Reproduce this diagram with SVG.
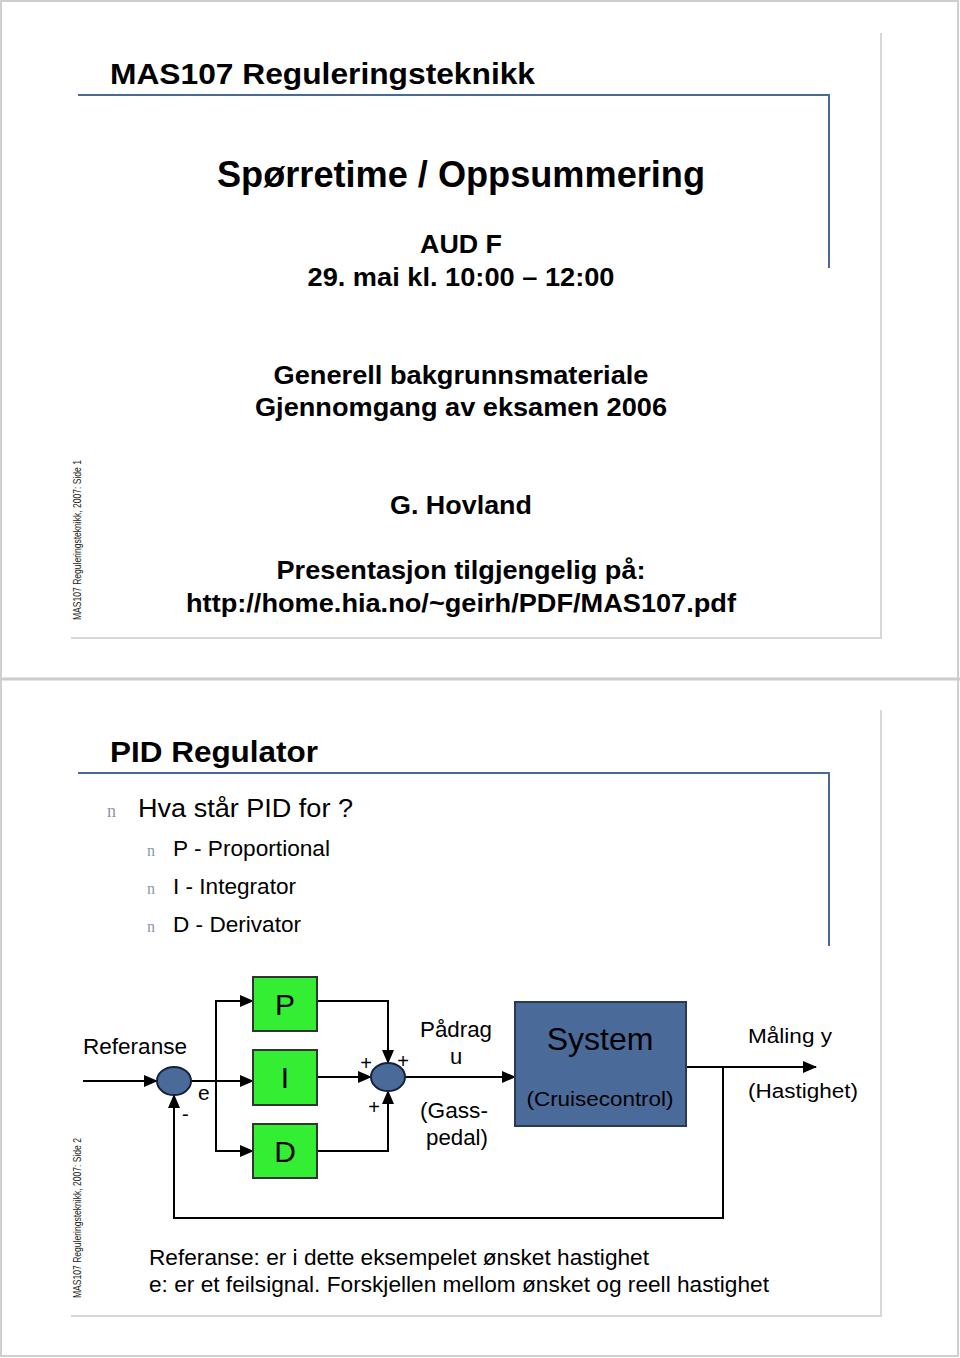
<svg xmlns="http://www.w3.org/2000/svg" width="960" height="1358" viewBox="0 0 960 1358">
<defs>
<style>
text{font-family:"Liberation Sans",Arial,sans-serif;fill:#000}
.b{font-weight:bold}
.frame{fill:none;stroke:#cfcfcf;stroke-width:2}
.shadow{fill:none;stroke:#d8d8d8;stroke-width:2}
.hdr{fill:none;stroke:#4a6a94;stroke-width:2}
.side{font-size:10px;fill:#222}
.bul{font-family:"Liberation Serif",serif;fill:#8a98a8}
.w{fill:none;stroke:#000;stroke-width:2}
.arr{fill:none;stroke:#000;stroke-width:2;marker-end:url(#ah)}
.blk{fill:#33ee33;stroke:#333;stroke-width:2}
.sum{fill:#4a6a9a;stroke:#15233a;stroke-width:2}
.sys{fill:#4a6a9a;stroke:#2a3a55;stroke-width:2}
.c{text-anchor:middle}
</style>
<marker id="ah" markerWidth="14" markerHeight="12" refX="13" refY="6" orient="auto" markerUnits="userSpaceOnUse">
<path d="M0,0 L14,6 L0,12 Z" fill="#000"/>
</marker>
</defs>
<rect width="960" height="1358" fill="#fff"/>
<g id="frame">
<rect class="frame" x="1" y="1" width="957" height="1355"/>
<line x1="0" y1="679" x2="960" y2="679" stroke="#cccccc" stroke-width="3"/>
<polyline class="shadow" points="71,638 881,638 881,33"/>
<polyline class="shadow" points="71,1316 881,1316 881,710"/>
</g>
<g id="slide1">
<text class="b" x="110" y="84" font-size="30" textLength="425" lengthAdjust="spacingAndGlyphs">MAS107 Reguleringsteknikk</text>
<polyline class="hdr" points="78,95 829,95 829,268"/>
<text class="b c" x="461" y="187" font-size="36" textLength="488" lengthAdjust="spacingAndGlyphs">Spørretime / Oppsummering</text>
<text class="b c" x="461" y="253" font-size="26" textLength="82" lengthAdjust="spacingAndGlyphs">AUD F</text>
<text class="b c" x="461" y="286" font-size="26" textLength="307" lengthAdjust="spacingAndGlyphs">29. mai kl. 10:00 – 12:00</text>
<text class="b c" x="461" y="384" font-size="26" textLength="375" lengthAdjust="spacingAndGlyphs">Generell bakgrunnsmateriale</text>
<text class="b c" x="461" y="416" font-size="26" textLength="412" lengthAdjust="spacingAndGlyphs">Gjennomgang av eksamen 2006</text>
<text class="b c" x="461" y="514" font-size="26" textLength="142" lengthAdjust="spacingAndGlyphs">G. Hovland</text>
<text class="b c" x="461" y="579" font-size="26" textLength="369" lengthAdjust="spacingAndGlyphs">Presentasjon tilgjengelig på:</text>
<text class="b c" x="461" y="612" font-size="26" textLength="550" lengthAdjust="spacingAndGlyphs">http://home.hia.no/~geirh/PDF/MAS107.pdf</text>
<text class="side" transform="translate(81,620) rotate(-90)" textLength="160" lengthAdjust="spacingAndGlyphs">MAS107 Reguleringsteknikk,  2007: Side 1</text>
</g>
<g id="slide2">
<text class="b" x="110" y="762" font-size="30" textLength="208" lengthAdjust="spacingAndGlyphs">PID Regulator</text>
<polyline class="hdr" points="78,773 829,773 829,946"/>
<text class="bul" x="107" y="817" font-size="18">n</text>
<text x="138" y="817" font-size="26" textLength="215" lengthAdjust="spacingAndGlyphs">Hva står PID for ?</text>
<text class="bul" x="147" y="856" font-size="16">n</text>
<text x="173" y="856" font-size="22" textLength="157" lengthAdjust="spacingAndGlyphs">P - Proportional</text>
<text class="bul" x="147" y="894" font-size="16">n</text>
<text x="173" y="894" font-size="22" textLength="123" lengthAdjust="spacingAndGlyphs">I - Integrator</text>
<text class="bul" x="147" y="932" font-size="16">n</text>
<text x="173" y="932" font-size="22" textLength="128" lengthAdjust="spacingAndGlyphs">D - Derivator</text>
<text class="side" transform="translate(81,1298) rotate(-90)" textLength="160" lengthAdjust="spacingAndGlyphs">MAS107 Reguleringsteknikk,  2007: Side 2</text>
<text x="149" y="1265" font-size="22" textLength="500" lengthAdjust="spacingAndGlyphs">Referanse: er i dette eksempelet ønsket hastighet</text>
<text x="149" y="1292" font-size="22" textLength="620" lengthAdjust="spacingAndGlyphs">e: er et feilsignal. Forskjellen mellom ønsket og reell hastighet</text>
</g>
<g id="connectors">
<line class="arr" x1="83" y1="1081" x2="157" y2="1081"/>
<line class="arr" x1="191" y1="1081" x2="253" y2="1081"/>
<polyline class="arr" points="216,1081 216,1001 253,1001"/>
<polyline class="arr" points="216,1081 216,1151 253,1151"/>
<polyline class="arr" points="317,1001 388,1001 388,1063"/>
<line class="arr" x1="317" y1="1077" x2="371" y2="1077"/>
<polyline class="arr" points="317,1151 388,1151 388,1091"/>
<line class="arr" x1="405" y1="1077" x2="515" y2="1077"/>
<line class="arr" x1="686" y1="1067" x2="816" y2="1067"/>
<polyline class="arr" points="723,1067 723,1218 174,1218 174,1095"/>
</g>
<g id="sum1">
<ellipse class="sum" cx="174" cy="1081" rx="17" ry="14"/>
</g>
<g id="sum2">
<ellipse class="sum" cx="388" cy="1077" rx="17" ry="14"/>
</g>
<g id="P">
<rect class="blk" x="253" y="977" width="64" height="54"/>
<text class="c" x="285" y="1015" font-size="30">P</text>
</g>
<g id="I">
<rect class="blk" x="253" y="1050" width="64" height="55"/>
<text class="c" x="285" y="1088" font-size="30">I</text>
</g>
<g id="D">
<rect class="blk" x="253" y="1124" width="64" height="54"/>
<text class="c" x="285" y="1162" font-size="30">D</text>
</g>
<g id="system">
<rect class="sys" x="515" y="1002" width="171" height="124"/>
<text class="c" x="600" y="1050" font-size="32" fill="#111">System</text>
<text class="c" x="600" y="1106" font-size="20" textLength="147" lengthAdjust="spacingAndGlyphs">(Cruisecontrol)</text>
</g>
<g id="labels">
<text x="83" y="1054" font-size="22" textLength="104" lengthAdjust="spacingAndGlyphs">Referanse</text>
<text x="198" y="1100" font-size="21">e</text>
<text x="182" y="1121" font-size="20">-</text>
<text class="c" x="366" y="1070" font-size="20">+</text>
<text class="c" x="403" y="1068" font-size="20">+</text>
<text class="c" x="374" y="1114" font-size="20">+</text>
<text class="c" x="456" y="1037" font-size="22" textLength="72" lengthAdjust="spacingAndGlyphs">Pådrag</text>
<text class="c" x="456" y="1064" font-size="22">u</text>
<text class="c" x="454" y="1118" font-size="22" textLength="68" lengthAdjust="spacingAndGlyphs">(Gass-</text>
<text class="c" x="457" y="1145" font-size="22" textLength="62" lengthAdjust="spacingAndGlyphs">pedal)</text>
<text x="748" y="1043" font-size="20" textLength="84" lengthAdjust="spacingAndGlyphs">Måling y</text>
<text x="748" y="1098" font-size="20" textLength="110" lengthAdjust="spacingAndGlyphs">(Hastighet)</text>
</g>
</svg>
